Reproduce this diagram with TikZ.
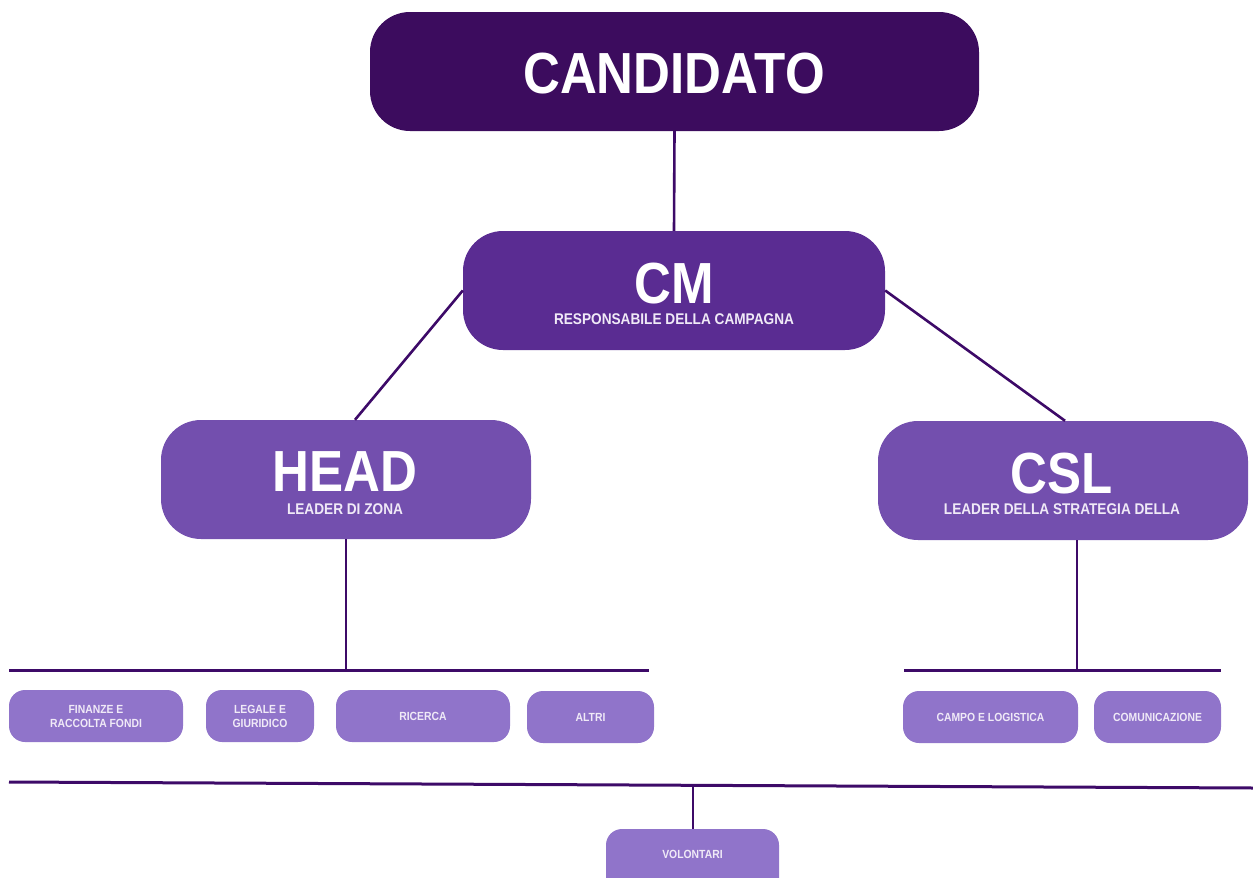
\documentclass[tikz,border=0pt]{standalone}
\usepackage{fontspec}
\setmainfont{Liberation Sans}[FakeStretch=0.88]
\definecolor{cDark}{HTML}{3C0C5E}
\definecolor{cMid}{HTML}{5A2C92}
\definecolor{cLead}{HTML}{734FAE}
\definecolor{cSmall}{HTML}{9074CA}
\definecolor{cLine}{HTML}{3D0A68}
\definecolor{cSub}{HTML}{F0EAF7}
\tikzset{
  bigbox/.style={rounded corners=40pt, minimum height=119pt, inner sep=0pt},
  smallbox/.style={fill=cSmall, rounded corners=16pt, minimum height=52pt, inner sep=0pt,
     text=cSub, align=center, font=\fontsize{11.8}{14}\selectfont\bfseries},
  titletext/.style={anchor=base, text=white, inner sep=0pt, text depth=0pt, font=\fontsize{58}{58}\selectfont\bfseries},
  subtext/.style={anchor=base, text=cSub, inner sep=0pt, text height=10pt, font=\fontsize{15.5}{16}\selectfont\bfseries},
  conn/.style={draw=cLine, line width=2.6pt},
  bar/.style={draw=cLine, line width=3pt},
}
\begin{document}
\begin{tikzpicture}[x=1pt,y=-1pt]
\useasboundingbox (0,0) rectangle (1253,878);
\clip (0,0) rectangle (1253,878);

% big boxes
\node[bigbox, fill=cDark, minimum width=609pt] (cand) at (674.5,71.5) {};
\node[bigbox, fill=cMid, minimum width=422pt] (cm) at (674,290.5) {};
\node[bigbox, fill=cLead, minimum width=370pt] (head) at (346,479.5) {};
\node[bigbox, fill=cLead, minimum width=370pt] (csl) at (1063,480.5) {};

\node[titletext] (candT) at (674,93) {CANDIDATO};
\node[titletext] (cmT) at (674,303) {CM};
\node[subtext] (cmS) at (674,324) {RESPONSABILE DELLA CAMPAGNA};
\node[titletext] (headT) at (345,491) {HEAD};
\node[subtext] (headS) at (345,514) {LEADER DI ZONA};
\node[titletext] (cslT) at (1062,493) {CSL};
\node[subtext] (cslS) at (1062,514) {LEADER DELLA STRATEGIA DELLA};

% connectors between big boxes
\draw[conn] (cand.south) -- (cm.north);
\draw[conn] (cm.west) -- ([xshift=9pt]head.north);
\draw[conn] (cm.east) -- ([xshift=2pt]csl.north);

% bars
\coordinate (barHL) at (9,670);
\coordinate (barHR) at (649,670);
\coordinate (barCL) at (904,670);
\coordinate (barCR) at (1221,670);
\draw[bar] (barHL) -- (barHR);
\draw[bar] (barCL) -- (barCR);
\draw[conn] (head.south) -- (head.south |- barHL);
\draw[conn] ([xshift=14pt]csl.south) -- ([xshift=14pt]csl.south |- barCL);

% small boxes
\node[smallbox, minimum width=174pt] (fin) at (96,716) {FINANZE E\\RACCOLTA FONDI};
\node[smallbox, minimum width=108pt] (leg) at (260,716) {LEGALE E\\GIURIDICO};
\node[smallbox, minimum width=174pt] (ric) at (423,716) {RICERCA};
\node[smallbox, minimum width=127pt] (alt) at (590.5,717) {ALTRI};
\node[smallbox, minimum width=175pt] (cam) at (990.5,717) {CAMPO E LOGISTICA};
\node[smallbox, minimum width=127pt] (com) at (1157.5,717) {COMUNICAZIONE};

% bottom bar and volunteers
\coordinate (botL) at (9,782);
\coordinate (botR) at (1253,788);
\draw[bar] (botL) -- (botR);
\node[smallbox, minimum width=173pt, minimum height=70pt] (vol) at (692.5,864) {};
\node[text=cSub, inner sep=0pt, font=\fontsize{11.8}{14}\selectfont\bfseries] (volT) at (692.5,854) {VOLONTARI};
\draw[draw=cLine, line width=2pt] (vol.north) -- ++(0,-44);
\end{tikzpicture}
\end{document}
